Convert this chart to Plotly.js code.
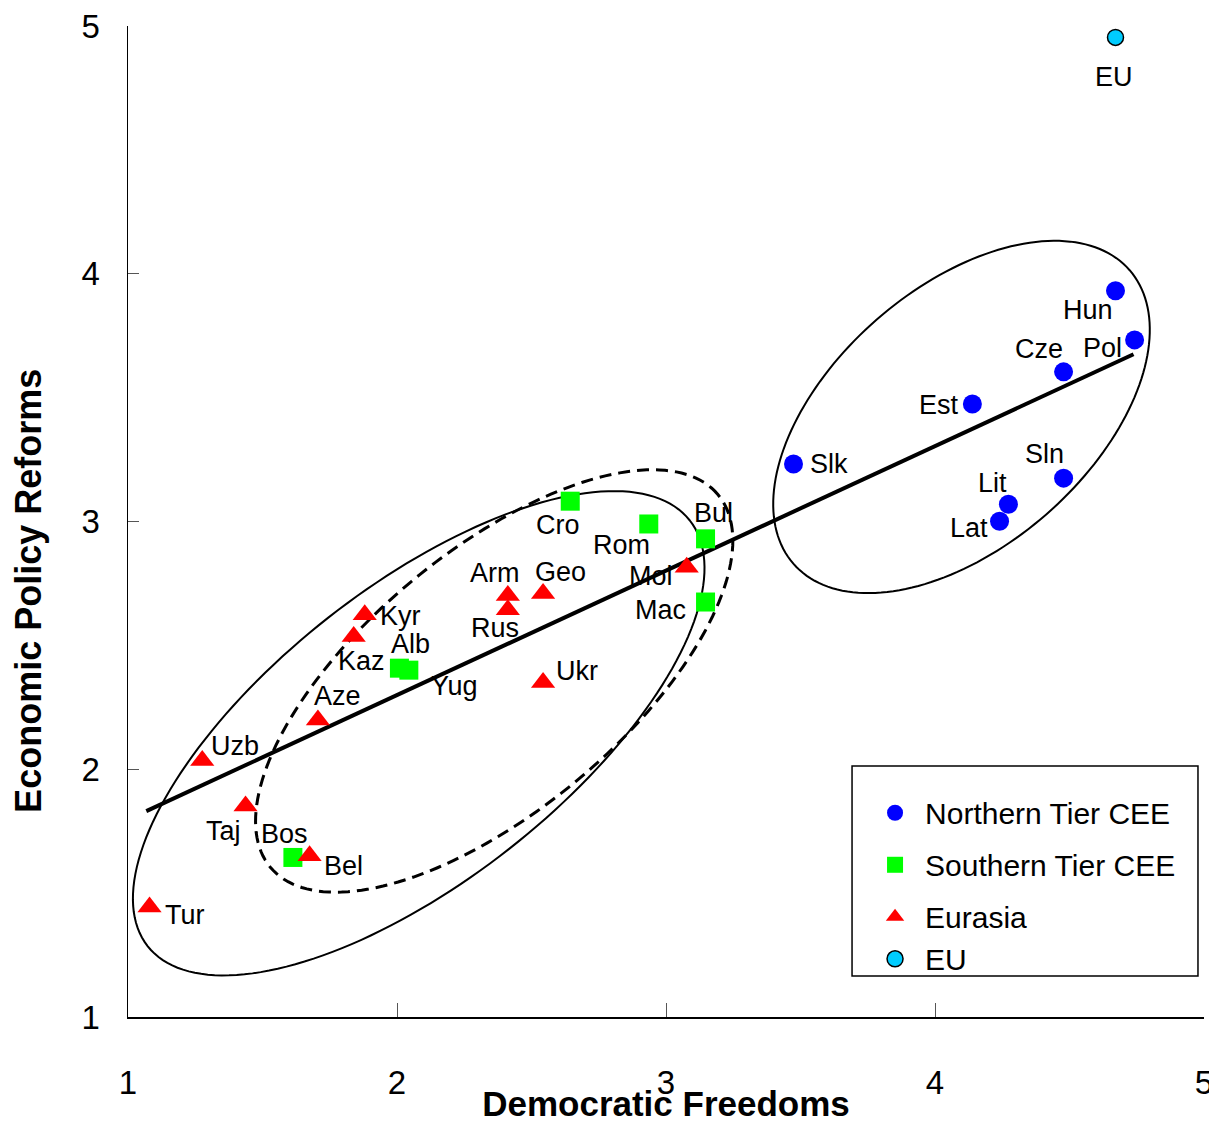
<!DOCTYPE html>
<html>
<head>
<meta charset="utf-8">
<script src="https://cdn.plot.ly/plotly-3.0.1.min.js"></script>
<style>
  html, body { margin: 0; padding: 0; background: #ffffff; }
  #chart { width: 1209px; height: 1123px; }
</style>
</head>
<body>
<div id="chart"></div>
<script>
// ---------------- Data ----------------
const northNames = ["Hun", "Pol", "Cze", "Est", "Slk", "Sln", "Lit", "Lat"];
const northX     = [4.671, 4.742, 4.478, 4.139, 3.474, 4.478, 4.273, 4.240];
const northY     = [3.931, 3.733, 3.604, 3.474, 3.232, 3.175, 3.070, 3.001];

const southNames = ["Cro", "Rom", "Bul", "Mac", "Alb", "Yug", "Bos"];
const southX     = [2.644, 2.936, 3.147, 3.147, 2.009, 2.044, 1.613];
const southY     = [3.082, 2.990, 2.930, 2.675, 2.408, 2.400, 1.644];

const eurasiaNames = ["Kyr", "Kaz", "Aze", "Uzb", "Taj", "Bel", "Tur", "Arm", "Rus", "Geo", "Mol", "Ukr"];
const eurasiaX     = [1.880, 1.839, 1.706, 1.276, 1.437, 1.675, 1.080, 2.412, 2.412, 2.543, 3.077, 2.543];
const eurasiaY     = [2.624, 2.536, 2.199, 2.035, 1.852, 1.651, 1.444, 2.701, 2.644, 2.709, 2.815, 2.350];

const euNames = ["EU"];
const euX     = [4.671];
const euY     = [4.954];

const trendX = [1.068, 4.738];
const trendY = [1.831, 3.675];

const xTicks = [1, 2, 3, 4, 5];
const yTicks = [1, 2, 3, 4, 5];

// Group ellipses: centre and the two half-axis vectors, in data units
const ellipseCenters = [[4.0985, 3.422], [2.0807, 2.1452], [2.3613, 2.3563]];
const ellipseMajor   = [[0.6251, 0.5923], [1.0079, 0.8588], [0.8323, 0.7517]];
const ellipseMinor   = [[-0.3150, 0.3934], [-0.3361, 0.4667], [-0.3071, 0.4023]];

// ---------------- Styling ----------------
const FONT = "Arial, 'Liberation Sans', sans-serif";
const ellipseStyles = [
  {color: "#000", width: 2, dash: "solid"},
  {color: "#000", width: 2, dash: "solid"},
  {color: "#000", width: 3, dash: "12px,7px"}
];
// label offsets in pixels (dx, dy with dy positive = up)
const labelOffsets = {
  Hun: [-28, -19], Pol: [-32, -8], Cze: [-25, 23], Est: [-33, -1], Slk: [35, 0],
  Sln: [-19, 24], Lit: [-16, 21], Lat: [-31, -7],
  Cro: [-12, -24], Rom: [-27, -21], Bul: [8, 26], Mac: [-45, -8], Alb: [11, 24],
  Yug: [46, -16], Bos: [-8, 23],
  Kyr: [36, -1], Kaz: [8, -25], Aze: [20, 24], Uzb: [33, 15], Taj: [-22, -25],
  Bel: [34, -10], Tur: [35, -8], Arm: [-13, 23], Rus: [-13, -18], Geo: [17, 22],
  Mol: [-36, -9], Ukr: [34, 12],
  EU: [-2, -40]
};
// legend frame (paper fractions of the plot area)
const legendBox = {x0: 0.6729, x1: 0.9944, y0: 0.0414, y1: 0.2533};

// ---------------- Build ----------------
function ellipsePath(i) {
  const c = ellipseCenters[i], a = ellipseMajor[i], b = ellipseMinor[i];
  let d = "";
  const n = 180;
  for (let k = 0; k <= n; k++) {
    const t = 2 * Math.PI * k / n;
    const x = c[0] + a[0] * Math.cos(t) + b[0] * Math.sin(t);
    const y = c[1] + a[1] * Math.cos(t) + b[1] * Math.sin(t);
    d += (k === 0 ? "M" : "L") + x.toFixed(5) + "," + y.toFixed(5);
  }
  return d + "Z";
}

const shapes = ellipseCenters.map((c, i) => ({
  type: "path", xref: "x", yref: "y", layer: "below",
  path: ellipsePath(i),
  line: ellipseStyles[i]
}));
shapes.push({
  type: "rect", xref: "paper", yref: "paper", layer: "below",
  x0: legendBox.x0, x1: legendBox.x1, y0: legendBox.y0, y1: legendBox.y1,
  line: {color: "#000", width: 1.5}, fillcolor: "#fff"
});

const traces = [
  {
    x: trendX, y: trendY, mode: "lines", type: "scatter", showlegend: false,
    line: {color: "#000", width: 4}, hoverinfo: "skip"
  },
  {
    name: "Northern Tier CEE", x: northX, y: northY, text: northNames,
    mode: "markers", type: "scatter", legendgroup: "a",
    marker: {symbol: "circle", size: 19, color: "#0000FF"}
  },
  {
    name: "Southern Tier CEE", x: southX, y: southY, text: southNames,
    mode: "markers", type: "scatter", legendgroup: "b",
    marker: {symbol: "square", size: 19, color: "#00FF00"}
  },
  {
    name: "Eurasia", x: eurasiaX, y: eurasiaY, text: eurasiaNames,
    mode: "markers", type: "scatter", legendgroup: "c",
    marker: {symbol: "triangle-up", size: 21, color: "#FF0000"}
  },
  {
    name: "EU", x: euX, y: euY, text: euNames,
    mode: "markers", type: "scatter", legendgroup: "c",
    marker: {symbol: "circle", size: 16, color: "#00CCFF", line: {color: "#000", width: 1.5}}
  }
];

const annotations = [];
function addLabels(names, xs, ys) {
  names.forEach((nm, i) => {
    const off = labelOffsets[nm] || [0, 0];
    annotations.push({
      x: xs[i], y: ys[i], xref: "x", yref: "y", text: nm, showarrow: false,
      xshift: off[0], yshift: off[1],
      font: {family: FONT, size: 27, color: "#000"}
    });
  });
}
addLabels(northNames, northX, northY);
addLabels(southNames, southX, southY);
addLabels(eurasiaNames, eurasiaX, eurasiaY);
addLabels(euNames, euX, euY);

// y-axis title (placed lower than axis centre as in the reference)
annotations.push({
  xref: "paper", yref: "paper", x: -0.092, y: 0.43, xanchor: "center", yanchor: "middle",
  text: "<b>Economic Policy Reforms</b>", textangle: -90, showarrow: false,
  font: {family: FONT, size: 36, color: "#000"}
});

const layout = {
  width: 1209, height: 1123,
  margin: {l: 128, r: 5, t: 26, b: 106},
  paper_bgcolor: "#fff", plot_bgcolor: "#fff",
  font: {family: FONT, color: "#000"},
  showlegend: true,
  legend: {
    x: legendBox.x0, y: legendBox.y1, xanchor: "left", yanchor: "top",
    bgcolor: "rgba(0,0,0,0)", borderwidth: 0,
    font: {family: FONT, size: 30, color: "#000"},
    title: {text: " ", font: {family: FONT, size: 16}},
    tracegroupgap: 10, itemwidth: 50, indentation: 13
  },
  xaxis: {
    range: [1, 5], tickvals: xTicks, ticktext: xTicks.map(String),
    ticks: "inside", ticklen: 14, tickcolor: "#555", tickwidth: 1,
    showline: true, linecolor: "#000", linewidth: 1.5,
    showgrid: false, zeroline: false,
    tickfont: {family: FONT, size: 33, color: "#000"},
    ticklabelstandoff: 36, ticklabeloverflow: "allow",
    title: {text: "<b>Democratic Freedoms</b>", font: {family: FONT, size: 35, color: "#000"}, standoff: 0}
  },
  yaxis: {
    range: [1, 5], tickvals: yTicks, ticktext: yTicks.map(String),
    ticks: "inside", ticklen: 11, tickcolor: "#555", tickwidth: 1,
    showline: true, linecolor: "#000", linewidth: 1.5,
    showgrid: false, zeroline: false,
    tickfont: {family: FONT, size: 33, color: "#000"},
    ticklabelstandoff: 20
  },
  shapes: shapes,
  annotations: annotations
};

Plotly.newPlot("chart", traces, layout, {staticPlot: true, displayModeBar: false});
</script>
</body>
</html>
